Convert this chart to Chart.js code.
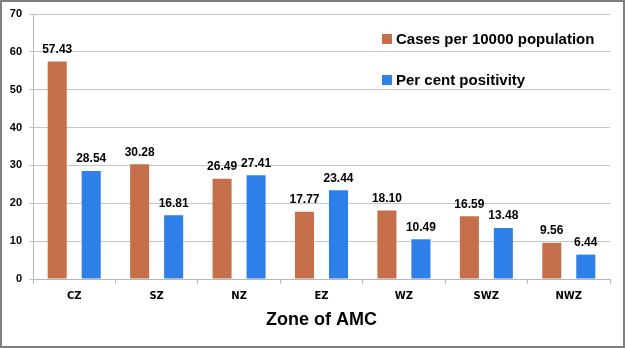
<!DOCTYPE html>
<html>
<head>
<meta charset="utf-8">
<script src="https://cdn.jsdelivr.net/npm/chart.js@4/dist/chart.umd.min.js"></script>
<style>
    html, body {
        margin: 0;
        padding: 0;
        background: #ffffff;
    }
    .frame {
        position: relative;
        width: 621px;
        height: 344px;
        border: 2px solid #7f7f7f;
    }
    canvas {
        position: absolute;
        left: -2px;
        top: -2px;
    }
</style>
</head>
<body>
<div class="frame">
    <canvas id="chart" width="625" height="348"></canvas>
</div>
<script>
const zones = ["CZ", "SZ", "NZ", "EZ", "WZ", "SWZ", "NWZ"];
const casesPer10000 = [57.43, 30.28, 26.49, 17.77, 18.10, 16.59, 9.56];
const perCentPositivity = [28.54, 16.81, 27.41, 23.44, 10.49, 13.48, 6.44];
const yTicks = [0, 10, 20, 30, 40, 50, 60, 70];

const COLORS = {
    cases: "#c5704a",
    positivity: "#2f7fe8",
    grid: "#c6c6c6",
    axis: "#b8b8b8",
    text: "#000000",
};

const FONT = "'Liberation Sans', Arial, sans-serif";

// value labels above each bar
const barLabels = {
    id: "barLabels",
    afterDatasetsDraw(chart) {
        const ctx = chart.ctx;
        ctx.save();
        ctx.font = `bold 12px ${FONT}`;
        ctx.fillStyle = COLORS.text;
        ctx.textAlign = "center";
        ctx.textBaseline = "middle";
        chart.data.datasets.forEach((dataset, i) => {
            chart.getDatasetMeta(i).data.forEach((bar, j) => {
                ctx.fillText(dataset.data[j].toFixed(2), bar.x, bar.y - 12);
            });
        });
        ctx.restore();
    },
};

// legend drawn inside the plot, top right, one item per row
const innerLegend = {
    id: "innerLegend",
    afterDraw(chart) {
        const ctx = chart.ctx;
        const x = 382;
        const rows = [39, 80];
        ctx.save();
        ctx.font = `bold 15px ${FONT}`;
        ctx.textBaseline = "middle";
        ctx.textAlign = "left";
        chart.data.datasets.forEach((dataset, i) => {
            ctx.fillStyle = dataset.backgroundColor;
            ctx.fillRect(x, rows[i] - 5, 10, 10);
            ctx.fillStyle = COLORS.text;
            ctx.fillText(dataset.label, x + 14, rows[i] + 1);
        });
        ctx.restore();
    },
};

new Chart(document.getElementById("chart").getContext("2d"), {
    type: "bar",
    data: {
        labels: zones,
        datasets: [
            {
                label: "Cases per 10000 population",
                data: casesPer10000,
                backgroundColor: COLORS.cases,
                categoryPercentage: 0.825,
                barPercentage: 0.56,
            },
            {
                label: "Per cent positivity",
                data: perCentPositivity,
                backgroundColor: COLORS.positivity,
                categoryPercentage: 0.825,
                barPercentage: 0.56,
            },
        ],
    },
    options: {
        responsive: false,
        animation: false,
        layout: {
            padding: { left: 0, right: 15, top: 14, bottom: 0 },
        },
        plugins: {
            legend: { display: false },
            tooltip: { enabled: false },
        },
        scales: {
            x: {
                grid: {
                    drawOnChartArea: false,
                    drawTicks: true,
                    tickLength: 5,
                    color: COLORS.axis,
                },
                border: { color: COLORS.axis },
                ticks: {
                    color: COLORS.text,
                    font: { family: "'DejaVu Sans', sans-serif", size: 10, weight: "bold" },
                    padding: 6,
                },
                title: {
                    display: true,
                    text: "Zone of AMC",
                    color: COLORS.text,
                    font: { family: FONT, size: 18, weight: "bold" },
                    padding: { top: 6, bottom: 17 },
                },
                afterFit(scale) {
                    scale.height = 69;
                },
            },
            y: {
                min: 0,
                max: 70,
                afterBuildTicks(scale) {
                    scale.ticks = yTicks.map((value) => ({ value }));
                },
                grid: {
                    color: COLORS.grid,
                    tickLength: 4,
                },
                border: { color: COLORS.axis },
                ticks: {
                    color: COLORS.text,
                    font: { family: FONT, size: 11, weight: "bold" },
                    padding: 7,
                },
                afterFit(scale) {
                    scale.width = 33;
                },
            },
        },
    },
    plugins: [barLabels, innerLegend],
});
</script>
</body>
</html>
